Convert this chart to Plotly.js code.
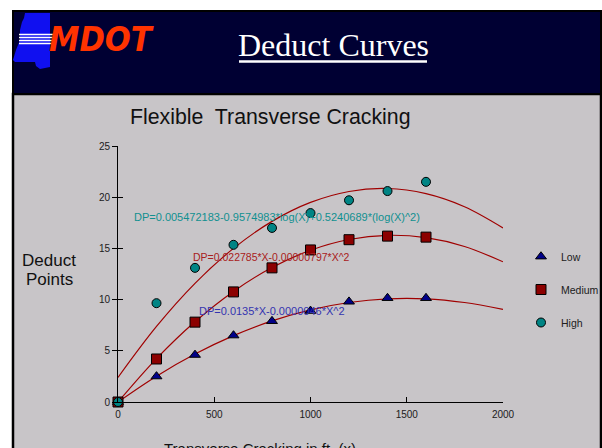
<!DOCTYPE html>
<html>
<head>
<meta charset="utf-8">
<script src="https://cdn.plot.ly/plotly-3.0.1.min.js"></script>
<style>html,body{margin:0;padding:0;background:#fff;}#chart{width:602px;height:448px;}</style>
</head>
<body>
<div id="chart"></div>
<script>
// ---- data ----
var crackX = [0, 200, 400, 600, 800, 1000, 1200, 1400, 1600];
var lowDP = [0, 2.5, 4.6, 6.5, 7.9, 8.9, 9.8, 10.15, 10.15];
var mediumDP = [0, 4.2, 7.8, 10.75, 13.1, 14.85, 15.85, 16.2, 16.1];
var highDP = [0, 9.65, 13.1, 15.35, 17.0, 18.45, 19.7, 20.6, 21.5];

var curveX = [0, 200, 400, 600, 800, 1000, 1200, 1400, 1600, 1800, 2000];
var lowCurve = [0, 2.52, 4.68, 6.48, 7.92, 9.0, 9.72, 10.08, 10.08, 9.72, 9.05];
var mediumCurve = [0, 4.24, 7.84, 10.8, 13.13, 14.82, 15.87, 16.28, 16.05, 15.19, 13.69];
var highCurve = [2.4, 7.38, 11.59, 15.0, 17.64, 19.49, 20.56, 20.85, 20.35, 19.07, 17.0];

var xTicks = [0, 500, 1000, 1500, 2000];
var yTicks = [0, 5, 10, 15, 20, 25];

var seriesNames = ["Low", "Medium", "High"];
var equations = [
  "DP=0.0135*X-0.0000046*X^2",
  "DP=0.022785*X-0.00000797*X^2",
  "DP=0.005472183-0.9574983*log(X)+0.5240689*(log(X)^2)"
];

// ---- layout helpers (pixel -> paper) ----
var L = 118, T = 146, W = 385, H = 256;
function px(x) { return (x - L) / W; }
function py(y) { return (T + H - y) / H; }

var curveColor = "#a00000";
var FONT = "Arial, 'Liberation Sans', sans-serif";

var traces = [
  {x: curveX, y: lowCurve, mode: "lines", line: {color: curveColor, width: 1.2, shape: "spline"}, showlegend: false, hoverinfo: "skip", cliponaxis: false},
  {x: curveX, y: mediumCurve, mode: "lines", line: {color: curveColor, width: 1.2, shape: "spline"}, showlegend: false, hoverinfo: "skip", cliponaxis: false},
  {x: curveX, y: highCurve, mode: "lines", line: {color: curveColor, width: 1.2, shape: "spline"}, showlegend: false, hoverinfo: "skip", cliponaxis: false},
  {x: crackX, y: lowDP, name: seriesNames[0], mode: "markers", legendgroup: "a",
   marker: {symbol: "triangle-up", size: 9.5, color: "#000088", line: {color: "#000000", width: 1}}, cliponaxis: false},
  {x: crackX, y: mediumDP, name: seriesNames[1], mode: "markers", legendgroup: "b",
   marker: {symbol: "square", size: 10, color: "#8c0000", line: {color: "#000000", width: 1}}, cliponaxis: false},
  {x: crackX, y: highDP, name: seriesNames[2], mode: "markers", legendgroup: "c",
   marker: {symbol: "circle", size: 9, color: "#008484", line: {color: "#000000", width: 1}}, cliponaxis: false}
];

var shapes = [
  // grey panel
  {type: "rect", xref: "paper", yref: "paper", x0: px(13), x1: px(601), y0: py(94), y1: py(470),
   fillcolor: "#c8c5c8", line: {color: "#000000", width: 2.5}, layer: "below"},
  // banner
  {type: "rect", xref: "paper", yref: "paper", x0: px(13), x1: px(601), y0: py(11), y1: py(94),
   fillcolor: "#000033", line: {color: "#000000", width: 2}, layer: "below"},
  // Mississippi shape
  {type: "path", xref: "paper", yref: "paper", layer: "below",
   path: "M" + px(25) + "," + py(13) + " L" + px(50) + "," + py(13) + " L" + px(50) + "," + py(67) +
         " L" + px(45) + "," + py(68) + " L" + px(40) + "," + py(69) + " L" + px(36) + "," + py(66) +
         " L" + px(35) + "," + py(62) + " L" + px(15) + "," + py(62) + " L" + px(13) + "," + py(60) +
         " L" + px(16) + "," + py(50) + " L" + px(20) + "," + py(40) + " L" + px(20) + "," + py(30) +
         " L" + px(22) + "," + py(22) + " L" + px(24) + "," + py(18) + " Z",
   fillcolor: "#1010f0", line: {width: 0}},
  // title underline
  {type: "line", xref: "paper", yref: "paper", x0: px(239), x1: px(427), y0: py(61.5), y1: py(61.5),
   line: {color: "#ffffff", width: 2.5}}
];
[34.5, 37.5, 40.5, 43.5].forEach(function (yy) {
  shapes.push({type: "line", xref: "paper", yref: "paper", x0: px(19), x1: px(56), y0: py(yy), y1: py(yy),
               line: {color: "#ffffff", width: 1.3}});
});

var annotations = [
  {xref: "paper", yref: "paper", x: px(101), y: py(39), xanchor: "center", yanchor: "middle", showarrow: false,
   text: "<b><i>MDOT</i></b>", font: {family: "'Liberation Sans Narrow', 'Arial Narrow', 'DejaVu Sans Condensed', sans-serif", size: 34, color: "#ff3300", weight: 900}},
  {xref: "paper", yref: "paper", x: px(333), y: py(45), xanchor: "center", yanchor: "middle", showarrow: false,
   text: "Deduct Curves", font: {family: "'Liberation Serif', 'Times New Roman', serif", size: 32, color: "#ffffff"}},
  {xref: "paper", yref: "paper", x: px(270.5), y: py(117), xanchor: "center", yanchor: "middle", showarrow: false,
   text: "Flexible\u00a0 Transverse Cracking", font: {family: FONT, size: 21.3, color: "#111111"}},
  {xref: "paper", yref: "paper", x: px(49), y: py(260), xanchor: "center", yanchor: "middle", showarrow: false,
   text: "Deduct", font: {family: FONT, size: 17, color: "#111111"}},
  {xref: "paper", yref: "paper", x: px(49), y: py(279.5), xanchor: "center", yanchor: "middle", showarrow: false,
   text: "Points", font: {family: FONT, size: 17, color: "#111111"}},
  {xref: "paper", yref: "paper", x: px(259.5), y: py(438), xanchor: "center", yanchor: "top", showarrow: false,
   text: "Transverse Cracking in ft. (x)", font: {family: FONT, size: 15, color: "#111111"}},
  {xref: "x", yref: "y", x: 411, y: 8.9, xanchor: "left", yanchor: "middle", showarrow: false,
   text: equations[0], font: {family: FONT, size: 11, color: "#3434b0"}},
  {xref: "x", yref: "y", x: 380, y: 14.2, xanchor: "left", yanchor: "middle", showarrow: false,
   text: equations[1], font: {family: FONT, size: 10.5, color: "#a82020"}},
  {xref: "x", yref: "y", x: 72, y: 18.1, xanchor: "left", yanchor: "middle", showarrow: false,
   text: equations[2], font: {family: FONT, size: 11, color: "#109090"}}
];

var layout = {
  width: 602, height: 448,
  margin: {l: L, r: 602 - L - W, t: T, b: 448 - T - H, pad: 0, autoexpand: false},
  paper_bgcolor: "#ffffff",
  plot_bgcolor: "rgba(0,0,0,0)",
  font: {family: FONT, size: 10, color: "#202020"},
  showlegend: true,
  legend: {x: px(521), y: py(242), xanchor: "left", yanchor: "top", bgcolor: "rgba(0,0,0,0)",
           font: {family: FONT, size: 10.5, color: "#202020"}, tracegroupgap: 14, borderwidth: 0},
  xaxis: {range: [0, 2000], tickvals: xTicks, ticktext: xTicks.map(String), ticks: "inside", ticklen: 5,
          tickcolor: "#000000", showline: true, linecolor: "#000000", linewidth: 1, showgrid: false,
          zeroline: false, fixedrange: true, automargin: false, ticklabelstandoff: 3,
          tickfont: {size: 10, color: "#202020"}},
  yaxis: {range: [0, 25], tickvals: yTicks, ticktext: yTicks.map(String), ticks: "outside", ticklen: 5,
          tickcolor: "#000000", showline: true, linecolor: "#000000", linewidth: 1, showgrid: false,
          zeroline: false, fixedrange: true, automargin: false, tickfont: {size: 10, color: "#202020"}},
  yaxis2: {overlaying: "y", matches: "y", range: [0, 25], tickvals: yTicks, ticks: "inside", ticklen: 5,
           tickcolor: "#000000", showticklabels: false, showline: false, showgrid: false, zeroline: false},
  shapes: shapes,
  annotations: annotations
};

// dummy trace to show the inside half of the crossing y ticks
traces.push({x: [null], y: [null], yaxis: "y2", showlegend: false, hoverinfo: "skip", mode: "markers"});

Plotly.newPlot("chart", traces, layout, {staticPlot: true, displayModeBar: false});
</script>
</body>
</html>
